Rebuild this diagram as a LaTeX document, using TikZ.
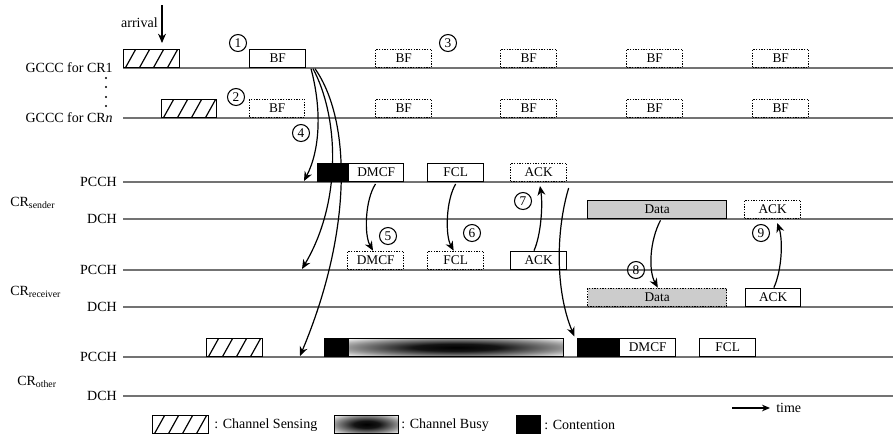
\documentclass[tikz,border=0pt]{standalone}
\usepackage{fontspec}
\setmainfont{Liberation Serif}
\usetikzlibrary{arrows.meta,calc}
\pgfdeclareradialshading{busyshade}{\pgfpoint{0bp}{0bp}}{color(0bp)=(black); color(10bp)=(black!92); color(24bp)=(black!45); color(36bp)=(white); color(50bp)=(white)}
\begin{document}
\begin{tikzpicture}[x=0.75pt,y=-0.75pt,
  tl/.style={draw=black!55, line width=0.8pt},
  box/.style={draw, line width=1pt, inner sep=0pt, minimum height=13.5pt,
    minimum width=#1*0.75pt, anchor=south west, font=\fontsize{10}{12}\selectfont},
  box/.default=56,
  dbox/.style={box=#1, densely dotted},
  dbox/.default=56,
  gbox/.style={box=#1, fill=black!20},
  gdbox/.style={box=#1, fill=black!20, densely dotted},
  cbox/.style={box=#1, fill=black},
  hbox/.style={box=#1, path picture={
      \foreach \k in {-1,...,4}{
        \draw[line width=0.9pt] ([xshift=\k*10.5pt+1.5pt]path picture bounding box.south west) -- ++(7.5pt,13.5pt);}}},
  busybox/.style={box=#1, path picture={
      \shade[shading=busyshade] (path picture bounding box.south west) rectangle (path picture bounding box.north east);}},
  num/.style={circle, draw, line width=0.8pt, minimum size=12.75pt, inner sep=0pt, font=\fontsize{10}{12}\selectfont},
  arr/.style={-{Stealth[length=7pt,width=6pt]}, line width=0.9pt},
  lab/.style={anchor=east, inner sep=0pt, font=\fontsize{10.5}{12}\selectfont},
  crlab/.style={anchor=west, inner sep=0pt, font=\fontsize{10.5}{12}\selectfont},
  leg/.style={anchor=west, inner sep=0pt, font=\fontsize{10.5}{12}\selectfont}]
\useasboundingbox (0,0) rectangle (893,437);

% timelines
\foreach \y/\n in {68/g1,118/gn,182/sp,219/sd,270/rp,307/rd,357/op,396/od}{
  \coordinate (\n0) at (123,\y);
  \coordinate (\n1) at (893,\y);
  \draw[tl] (\n0) -- (\n1);
}

% labels
\node[lab] (lg1) at (113,68) {GCCC for CR1};
\node[lab] (lgn) at (113,118) {GCCC for CR\textit{n}};
\foreach \yy in {78,87,97,106}{\fill (106,\yy) circle (0.9pt);}
\node[lab] (lsp) at (117,182) {PCCH};
\node[lab] (lsd) at (117,219) {DCH};
\node[lab] (lrp) at (117,270) {PCCH};
\node[lab] (lrd) at (117,307) {DCH};
\node[lab] (lop) at (117,357) {PCCH};
\node[lab] (lod) at (117,396) {DCH};
\node[crlab] (crs) at (10,203) {CR\textsubscript{sender}};
\node[crlab] (crr) at (10,292) {CR\textsubscript{receiver}};
\node[crlab] (cro) at (17,382) {CR\textsubscript{other}};

% arrival
\node[lab] (arrl) at (158,23) {arrival};
\coordinate (a0) at (162,5);
\coordinate (a1) at (162,43);
\draw[arr] (a0) -- (a1);

% GCCC for CR1
\node[hbox=56] (h1) at (123,68) {};
\node[box] (bf1) at (249,68) {BF};
\node[dbox] (bf1b) at (375,68) {BF};
\node[dbox] (bf1c) at (500,68) {BF};
\node[dbox] (bf1d) at (626,68) {BF};
\node[dbox] (bf1e) at (752,68) {BF};
% GCCC for CRn
\node[hbox=55] (hn) at (161,118) {};
\node[dbox=55] (bfn1) at (249,118) {BF};
\node[dbox] (bfnb) at (375,118) {BF};
\node[dbox] (bfnc) at (500,118) {BF};
\node[dbox] (bfnd) at (626,118) {BF};
\node[dbox] (bfne) at (752,118) {BF};

% sender
\node[cbox=31] (csS) at (317,182) {};
\node[box=55] (dmcfS) at (348,182) {DMCF};
\node[box] (fclS) at (427,182) {FCL};
\node[dbox] (ackS) at (510,182) {ACK};
\node[gbox=139] (dataS) at (587,219) {Data};
\node[dbox] (ackSD) at (744,219) {ACK};

% receiver
\node[dbox=56] (dmcfR) at (347,270) {DMCF};
\node[dbox] (fclR) at (427,270) {FCL};
\node[box] (ackR) at (510,270) {ACK};
\node[gdbox=139] (dataR) at (587,307) {Data};
\node[box=55] (ackRD) at (745,307) {ACK};

% other
\node[hbox=56] (ho) at (206,357) {};
\node[cbox=24] (co1) at (324,357) {};
\node[busybox=215] (busy) at (348,357) {};
\node[cbox=42] (co2) at (577,357) {};
\node[box] (dmcfO) at (619,357) {DMCF};
\node[box] (fclO) at (699,357) {FCL};

% circled numbers
\node[num] (n1) at (238,43) {1};
\node[num] (n2) at (236,97) {2};
\node[num] (n3) at (448,43) {3};
\node[num] (n4) at (301,133) {4};
\node[num] (n5) at (388,236) {5};
\node[num] (n6) at (472,233) {6};
\node[num] (n7) at (523,201) {7};
\node[num] (n8) at (636,270) {8};
\node[num] (n9) at (761,233) {9};

% arrow end points
\coordinate (e1) at (304,181);
\coordinate (e2) at (302,269);
\coordinate (e3) at (300,356);

% curves from BF
\draw[arr] ([xshift=3.5pt,yshift=-0.5pt]bf1.south east) .. controls (322,110) and (320,150) .. (e1);
\draw[arr] ([xshift=5pt,yshift=-0.5pt]bf1.south east) .. controls (338,115) and (343,200) .. (e2);
\draw[arr] ([xshift=6.5pt,yshift=-0.5pt]bf1.south east) .. controls (351,120) and (353,230) .. (e3);

% 5, 6
\draw[arr] ([xshift=-0.5pt,yshift=-1.5pt]dmcfS.south) .. controls (365,200) and (364,235) .. ([xshift=-2pt]dmcfR.north);
\draw[arr] ([yshift=-1.5pt]fclS.south) .. controls (446,200) and (445,235) .. ([xshift=-1.5pt]fclR.north);
% 7
\draw[arr] ([xshift=-3.5pt]ackR.north) .. controls (541,235) and (543,205) .. ([xshift=1pt,yshift=-3pt]ackS.south);
% ACK -> other contention
\draw[arr] ([xshift=1pt,yshift=-4.5pt]ackS.south east) .. controls (556,230) and (555,290) .. ([xshift=-2pt,yshift=1pt]co2.north west);
% 8
\draw[arr] ([xshift=2.5pt,yshift=-1pt]dataS.south) .. controls (650,240) and (648,270) .. ([xshift=0.5pt]dataR.north);
% 9
\draw[arr] ([xshift=0.5pt]ackRD.north) .. controls (782,270) and (783,240) .. ([xshift=3.5pt,yshift=-3pt]ackSD.south);

% legend
\node[hbox=56] (lgh) at (152,434) {};
\node[leg] (lght) at (214,425) {: Channel Sensing};
\node[busybox=64] (lgb) at (334,434) {};
\node[leg] (lgbt) at (401,425) {: Channel Busy};
\node[cbox=24] (lgc) at (516,434) {};
\node[leg] (lgct) at (544,425) {: Contention};
\coordinate (t0) at (732,408);
\coordinate (t1) at (770,408);
\draw[-{Stealth[length=6pt,width=5pt]}, line width=0.8pt] (t0) -- (t1);
\node[leg] (tm) at (776,408) {time};
\end{tikzpicture}
\end{document}
